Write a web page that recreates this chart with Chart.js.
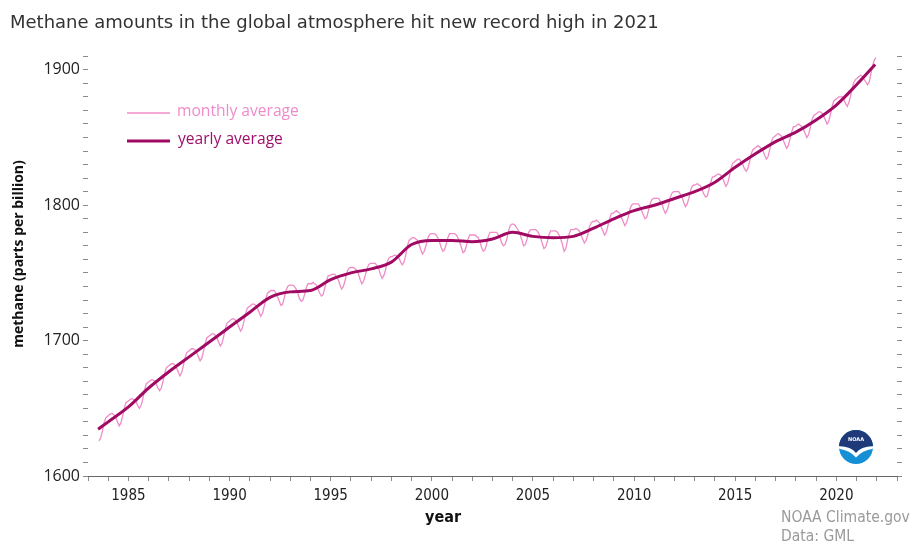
<!DOCTYPE html>
<html>
<head>
<meta charset="utf-8">
<title>Methane amounts in the global atmosphere</title>
<script src="https://cdn.jsdelivr.net/npm/chart.js@4.4.0/dist/chart.umd.min.js"></script>
<style>
    html, body { margin: 0; padding: 0; background: #ffffff; }
    #methane-chart { display: block; }
</style>
</head>
<body>
<canvas id="methane-chart" width="913" height="544"></canvas>
<script>
// chart text
const titleText = "Methane amounts in the global atmosphere hit new record high in 2021";
const yTitle = "methane (parts per billion)";
const xTitle = "year";
const creditLines = ["NOAA Climate.gov", "Data: GML"];
const legendLabels = ["monthly average", "yearly average"];

// axis ranges and labelled ticks
const xRange = [1983, 2023];
const yRange = [1600, 1925];
const xLabelYears = [1985, 1990, 1995, 2000, 2005, 2010, 2015, 2020];
const yLabelValues = [1600, 1700, 1800, 1900];

// monthly average (ppb), starting July 1983, one row per year
const monthlyStart = 1983.5;
const monthlyValues = [
    1626, 1628, 1633, 1639, 1643, 1644,                                   // 1983 (Jul-Dec)
    1645, 1646, 1646, 1645, 1643, 1640, 1637, 1639, 1644, 1650, 1654, 1655, // 1984
    1656, 1657, 1657, 1656, 1655, 1652, 1650, 1652, 1657, 1663, 1668, 1669, // 1985
    1670, 1671, 1671, 1670, 1668, 1665, 1663, 1665, 1670, 1676, 1680, 1681, // 1986
    1682, 1683, 1683, 1682, 1680, 1677, 1674, 1676, 1681, 1687, 1691, 1692, // 1987
    1693, 1694, 1694, 1693, 1691, 1688, 1685, 1687, 1692, 1698, 1702, 1703, // 1988
    1704, 1705, 1705, 1704, 1702, 1699, 1696, 1698, 1703, 1709, 1713, 1714, // 1989
    1715, 1716, 1716, 1715, 1713, 1710, 1707, 1709, 1714, 1720, 1724, 1725, // 1990
    1726, 1727, 1727, 1726, 1724, 1721, 1718, 1720, 1725, 1731, 1735, 1736, // 1991
    1737, 1737, 1737, 1735, 1732, 1729, 1726, 1727, 1732, 1737, 1740, 1741, // 1992
    1741, 1741, 1740, 1738, 1735, 1731, 1729, 1730, 1734, 1739, 1742, 1742, // 1993
    1742, 1743, 1742, 1741, 1738, 1735, 1733, 1734, 1739, 1744, 1748, 1748, // 1994
    1749, 1749, 1749, 1747, 1745, 1741, 1738, 1740, 1744, 1750, 1753, 1754, // 1995
    1754, 1754, 1753, 1752, 1749, 1745, 1742, 1744, 1748, 1753, 1756, 1757, // 1996
    1757, 1757, 1757, 1755, 1753, 1749, 1746, 1748, 1752, 1758, 1761, 1762, // 1997
    1762, 1763, 1763, 1762, 1761, 1758, 1756, 1758, 1763, 1770, 1774, 1775, // 1998
    1776, 1776, 1775, 1774, 1771, 1767, 1764, 1766, 1770, 1775, 1778, 1779, // 1999
    1779, 1779, 1778, 1776, 1773, 1769, 1766, 1767, 1771, 1776, 1779, 1779, // 2000
    1779, 1779, 1778, 1776, 1773, 1769, 1765, 1766, 1770, 1775, 1778, 1778, // 2001
    1778, 1778, 1777, 1776, 1773, 1769, 1766, 1767, 1771, 1777, 1780, 1780, // 2002
    1780, 1780, 1780, 1778, 1776, 1772, 1770, 1771, 1775, 1781, 1785, 1786, // 2003
    1786, 1785, 1783, 1781, 1778, 1774, 1770, 1771, 1775, 1780, 1782, 1782, // 2004
    1782, 1782, 1781, 1779, 1776, 1772, 1768, 1769, 1773, 1778, 1781, 1781, // 2005
    1781, 1781, 1780, 1778, 1775, 1771, 1766, 1768, 1774, 1779, 1782, 1782, // 2006
    1782, 1783, 1782, 1781, 1778, 1775, 1772, 1774, 1778, 1784, 1787, 1788, // 2007
    1788, 1789, 1788, 1787, 1784, 1781, 1778, 1780, 1785, 1790, 1794, 1794, // 2008
    1795, 1796, 1795, 1794, 1791, 1788, 1785, 1787, 1791, 1797, 1800, 1801, // 2009
    1801, 1801, 1801, 1799, 1796, 1793, 1790, 1791, 1796, 1801, 1804, 1805, // 2010
    1805, 1805, 1805, 1803, 1801, 1797, 1794, 1796, 1800, 1806, 1809, 1810, // 2011
    1810, 1810, 1810, 1808, 1806, 1802, 1799, 1801, 1805, 1811, 1814, 1815, // 2012
    1815, 1816, 1815, 1814, 1811, 1808, 1806, 1807, 1812, 1817, 1821, 1821, // 2013
    1822, 1823, 1823, 1822, 1820, 1817, 1814, 1816, 1821, 1827, 1831, 1832, // 2014
    1833, 1834, 1834, 1832, 1830, 1827, 1825, 1827, 1832, 1838, 1841, 1842, // 2015
    1843, 1844, 1843, 1842, 1840, 1837, 1834, 1836, 1841, 1847, 1850, 1851, // 2016
    1852, 1853, 1852, 1851, 1848, 1845, 1842, 1844, 1849, 1854, 1858, 1858, // 2017
    1859, 1860, 1859, 1858, 1856, 1853, 1850, 1852, 1857, 1863, 1866, 1867, // 2018
    1868, 1869, 1869, 1868, 1866, 1863, 1860, 1862, 1867, 1873, 1877, 1878, // 2019
    1879, 1880, 1880, 1880, 1878, 1875, 1873, 1876, 1881, 1887, 1891, 1893, // 2020
    1894, 1895, 1896, 1895, 1893, 1891, 1889, 1891, 1897, 1903, 1907, 1909  // 2021
];

// yearly average trend line (ppb)
const trendYears = [
    1983.5, 1984, 1985, 1986, 1987, 1988, 1989, 1990, 1991, 1992, 1993, 1994,
    1995, 1996, 1997, 1998, 1999, 2000, 2001, 2002, 2003, 2004, 2005, 2006,
    2007, 2008, 2009, 2010, 2011, 2012, 2013, 2014, 2015, 2016, 2017, 2018,
    2019, 2020, 2021, 2021.92
];
const trendValues = [
    1634.5, 1640, 1651, 1665, 1677, 1688, 1699, 1710, 1721, 1732, 1736, 1737,
    1745, 1750, 1753, 1758, 1771, 1774, 1774, 1773, 1775, 1780, 1777, 1776,
    1777, 1783, 1790, 1796, 1800, 1805, 1810, 1817, 1828, 1838, 1847, 1854,
    1863, 1874, 1889, 1904
];

const monthlyColor = "#f08cc8";
const yearlyColor = "#a00a62";

const monthlyPoints = monthlyValues.map((v, i) => ({ x: monthlyStart + (i + 0.5) / 12, y: v }));
const trendPoints = trendYears.map((yr, i) => ({ x: yr, y: trendValues[i] }));

// NOAA badge, bottom right of the plot
function drawNoaaBadge(ctx, cx, cy, r) {
    ctx.save();
    ctx.beginPath();
    ctx.arc(cx, cy, r, 0, Math.PI * 2);
    ctx.clip();
    ctx.fillStyle = "#1590d5";
    ctx.fillRect(cx - r, cy - r, 2 * r, 2 * r);
    ctx.fillStyle = "#1e3a78";
    ctx.beginPath();
    ctx.moveTo(cx - r, cy - r);
    ctx.lineTo(cx + r, cy - r);
    ctx.lineTo(cx + r, cy - 0.05 * r);
    ctx.quadraticCurveTo(cx + 0.3 * r, cy - 0.05 * r, cx, cy + 0.35 * r);
    ctx.quadraticCurveTo(cx - 0.3 * r, cy - 0.05 * r, cx - r, cy - 0.05 * r);
    ctx.closePath();
    ctx.fill();
    ctx.fillStyle = "#ffffff";
    ctx.beginPath();
    ctx.moveTo(cx - r, cy - 0.05 * r);
    ctx.quadraticCurveTo(cx - 0.3 * r, cy - 0.05 * r, cx, cy + 0.35 * r);
    ctx.quadraticCurveTo(cx + 0.3 * r, cy - 0.05 * r, cx + r, cy - 0.05 * r);
    ctx.lineTo(cx + r, cy + 0.1 * r);
    ctx.quadraticCurveTo(cx + 0.35 * r, cy + 0.2 * r, cx, cy + 0.62 * r);
    ctx.quadraticCurveTo(cx - 0.35 * r, cy + 0.2 * r, cx - r, cy + 0.1 * r);
    ctx.closePath();
    ctx.fill();
    ctx.restore();
    ctx.save();
    ctx.fillStyle = "#ffffff";
    ctx.font = "bold 5px 'DejaVu Sans'";
    ctx.textAlign = "center";
    ctx.textBaseline = "middle";
    ctx.fillText("NOAA", cx, cy - 0.45 * r);
    ctx.restore();
}

// title, axis titles, legend, credits
const decorPlugin = {
    id: "decor",
    afterDraw(chart) {
        const { ctx } = chart;
        ctx.save();

        ctx.fillStyle = "#333333";
        ctx.font = "18px 'DejaVu Sans'";
        ctx.textAlign = "left";
        ctx.textBaseline = "alphabetic";
        ctx.fillText(titleText, 10, 28);

        ctx.save();
        ctx.translate(19, 254);
        ctx.rotate(-Math.PI / 2);
        ctx.fillStyle = "#111111";
        ctx.font = "bold 14px 'Open Sans'";
        ctx.textAlign = "center";
        ctx.textBaseline = "middle";
        ctx.fillText(yTitle, 0, 0);
        ctx.restore();

        ctx.fillStyle = "#111111";
        ctx.font = "bold 16px 'DejaVu Sans Condensed'";
        ctx.textAlign = "center";
        ctx.textBaseline = "middle";
        ctx.fillText(xTitle, 443, 518);

        ctx.fillStyle = "#9a9a9a";
        ctx.font = "15.5px 'DejaVu Sans Condensed'";
        ctx.textAlign = "left";
        ctx.fillText(creditLines[0], 781, 518);
        ctx.fillText(creditLines[1], 781, 537);

        // legend
        ctx.lineCap = "butt";
        ctx.strokeStyle = monthlyColor;
        ctx.lineWidth = 1.5;
        ctx.beginPath();
        ctx.moveTo(127, 113);
        ctx.lineTo(170, 113);
        ctx.stroke();
        ctx.strokeStyle = yearlyColor;
        ctx.lineWidth = 3;
        ctx.beginPath();
        ctx.moveTo(127, 141);
        ctx.lineTo(170, 141);
        ctx.stroke();
        ctx.font = "15.6px 'Open Sans'";
        ctx.textAlign = "left";
        ctx.fillStyle = "#ee8ccb";
        ctx.fillText(legendLabels[0], 177, 112);
        ctx.fillStyle = "#a0106a";
        ctx.fillText(legendLabels[1], 178, 140);

        drawNoaaBadge(ctx, 856, 447, 17);
        ctx.restore();
    }
};

const tickGrid = {
    drawOnChartArea: false,
    drawTicks: true,
    tickLength: 5,
    tickColor: "#8a8a8a",
    tickWidth: 1
};

new Chart(document.getElementById("methane-chart"), {
    type: "line",
    data: {
        datasets: [
            {
                label: legendLabels[1],
                data: trendPoints,
                borderColor: yearlyColor,
                borderWidth: 3,
                pointRadius: 0,
                cubicInterpolationMode: "monotone",
                order: 1
            },
            {
                label: legendLabels[0],
                data: monthlyPoints,
                borderColor: monthlyColor,
                borderWidth: 1.3,
                pointRadius: 0,
                tension: 0,
                order: 2
            }
        ]
    },
    options: {
        responsive: false,
        animation: false,
        devicePixelRatio: 1,
        layout: { padding: { top: 36, left: 0, right: 0, bottom: 0 } },
        plugins: {
            legend: { display: false },
            title: { display: false },
            tooltip: { enabled: false }
        },
        scales: {
            x: {
                type: "linear",
                min: xRange[0],
                max: xRange[1],
                grid: tickGrid,
                border: { display: true, color: "#666666", width: 1 },
                ticks: {
                    stepSize: 1,
                    autoSkip: false,
                    maxRotation: 0,
                    padding: 6,
                    color: "#222222",
                    font: { family: "'DejaVu Sans Condensed'", size: 15 },
                    callback: v => xLabelYears.includes(v) ? String(v) : ""
                },
                afterFit: s => { s.height = 68; }
            },
            y: {
                type: "linear",
                position: "left",
                min: yRange[0],
                max: yRange[1],
                grid: tickGrid,
                border: { display: false },
                afterBuildTicks: s => { s.ticks = s.ticks.filter(t => t.value % 10 === 0); },
                ticks: {
                    stepSize: 10,
                    autoSkip: false,
                    padding: 3,
                    color: "#222222",
                    font: { family: "'Open Sans'", size: 16 },
                    callback: v => yLabelValues.includes(v) ? String(v) : ""
                },
                afterFit: s => { s.width = 88; }
            },
            yRight: {
                type: "linear",
                position: "right",
                min: yRange[0],
                max: yRange[1],
                grid: tickGrid,
                border: { display: false },
                afterBuildTicks: s => { s.ticks = s.ticks.filter(t => t.value % 10 === 0); },
                ticks: { stepSize: 10, display: false },
                afterFit: s => { s.width = 16; }
            }
        }
    },
    plugins: [decorPlugin]
});
</script>
</body>
</html>
